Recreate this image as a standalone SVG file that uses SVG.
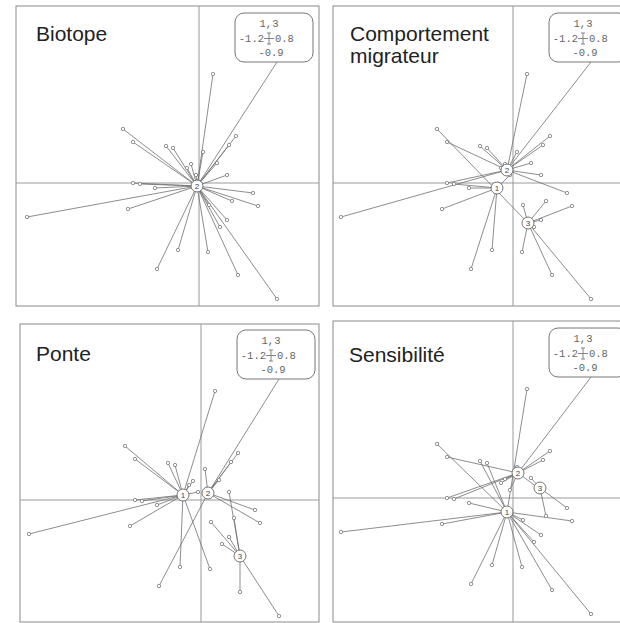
<svg xmlns="http://www.w3.org/2000/svg" xmlns:xlink="http://www.w3.org/1999/xlink" width="620" height="623" viewBox="0 0 620 623">
<style>
.frame{fill:none;stroke:#8a8a8a;stroke-width:1}
.axis{stroke:#9a9a9a;stroke-width:1;fill:none}
.star{stroke:#707070;stroke-width:0.8;fill:none}
.pt{fill:#fff;stroke:#777;stroke-width:0.8}
.ctr circle{fill:#fff;stroke:#666;stroke-width:0.9}
.ctr text{font-family:"Liberation Sans",Arial,sans-serif;font-size:8px;fill:#444;text-anchor:middle}
.title{font-family:"Liberation Sans",Arial,sans-serif;font-size:21px;fill:#222}
.box rect{fill:#fff;stroke:#777;stroke-width:1}
.box text{font-family:"Liberation Mono","Courier New",monospace;font-size:10.5px;fill:#666}
.box path{stroke:#777;stroke-width:0.9;fill:none}
</style>
<defs>
<g id="pts">
<circle class="pt" cx="14" cy="-109" r="1.7"/><circle class="pt" cx="-76" cy="-54" r="1.7"/><circle class="pt" cx="-66" cy="-41" r="1.7"/><circle class="pt" cx="-33" cy="-37" r="1.7"/><circle class="pt" cx="-26" cy="-35" r="1.7"/><circle class="pt" cx="4" cy="-31" r="1.7"/><circle class="pt" cx="37" cy="-47" r="1.7"/><circle class="pt" cx="-8" cy="-19" r="1.7"/><circle class="pt" cx="-12" cy="-15" r="1.7"/><circle class="pt" cx="28" cy="-8" r="1.7"/><circle class="pt" cx="-66" cy="0" r="1.7"/><circle class="pt" cx="-59" cy="1" r="1.7"/><circle class="pt" cx="-44" cy="5" r="1.7"/><circle class="pt" cx="-172" cy="34" r="1.7"/><circle class="pt" cx="-71" cy="26" r="1.7"/><circle class="pt" cx="54" cy="10" r="1.7"/><circle class="pt" cx="59" cy="23" r="1.7"/><circle class="pt" cx="28" cy="37" r="1.7"/><circle class="pt" cx="21" cy="44" r="1.7"/><circle class="pt" cx="-21" cy="67" r="1.7"/><circle class="pt" cx="9" cy="69" r="1.7"/><circle class="pt" cx="-42" cy="86" r="1.7"/><circle class="pt" cx="39" cy="92" r="1.7"/><circle class="pt" cx="78" cy="116" r="1.7"/><circle class="pt" cx="18" cy="-20" r="1.7"/><circle class="pt" cx="-3" cy="-8" r="1.7"/><circle class="pt" cx="33" cy="18" r="1.7"/><circle class="pt" cx="30" cy="-38" r="1.7"/><circle class="pt" cx="10" cy="22" r="1.7"/>
</g>
<g id="scale" class="box">
<rect x="36" y="-170" width="78" height="49" rx="9"/>
<text x="70" y="-156" text-anchor="middle">1,3</text>
<text x="65" y="-141" text-anchor="end">-1.2</text>
<path d="M70 -150V-139M65 -144.5H75M68 -150H72M68 -139H72"/>
<text x="76" y="-141">0.8</text>
<text x="72" y="-127" text-anchor="middle">-0.9</text>
</g>
</defs>

<!-- frames and axes -->
<g id="frames">
<rect class="frame" x="16" y="6" width="303" height="300"/>
<rect class="frame" x="333" y="6" width="300" height="300"/>
<rect class="frame" x="20" y="324" width="299" height="298"/>
<rect class="frame" x="333" y="321" width="300" height="301"/>
<path class="axis" d="M199 6V306M16 183H319M513 6V306M333 183H633M201 324V622M20 500H319M513 321V622M333 498H633"/>
</g>

<!-- Panel 1: Biotope -->
<g id="panel-biotope" transform="translate(199,183)">
<g id="connectors-biotope">
<path class="star" d="M-2 3L78-121M-2 3L14-109M-2 3L-76-54M-2 3L-66-41M-2 3L-33-37M-2 3L-26-35M-2 3L4-31M-2 3L37-47M-2 3L-8-19M-2 3L-12-15M-2 3L28-8M-2 3L-66 0M-2 3L-59 1M-2 3L-44 5M-2 3L-172 34M-2 3L-71 26M-2 3L54 10M-2 3L59 23M-2 3L28 37M-2 3L21 44M-2 3L-21 67M-2 3L9 69M-2 3L-42 86M-2 3L39 92M-2 3L78 116M-2 3L18-20M-2 3L-3-8M-2 3L33 18M-2 3L30-38M-2 3L10 22"/>
</g>
<use href="#pts" xlink:href="#pts"/>
<g id="biotope-c2" class="ctr"><circle cx="-2" cy="3" r="6"/><text x="-2" y="6">2</text></g>
<use href="#scale" xlink:href="#scale"/>
</g>
<text class="title" x="36" y="41">Biotope</text>

<!-- Panel 2: Comportement migrateur -->
<g id="panel-migrateur" transform="translate(513,183)">
<g id="connectors-migrateur">
<path class="star" d="M-6-13L78-121M-6-13L14-109M-6-13L-66-41M-6-13L-33-37M-6-13L-26-35M-6-13L4-31M-6-13L37-47M-6-13L-8-19M-6-13L-12-15M-6-13L28-8M-6-13L-66 0M-6-13L-172 34M-6-13L54 10M-6-13L18-20M-6-13L30-38"/>
<path class="star" d="M-16 5L-59 1M-16 5L-44 5M-16 5L-71 26M-16 5L-21 67M-16 5L-42 86M-16 5L-3-8"/>
<path class="star" d="M15 40L-76-54M15 40L59 23M15 40L28 37M15 40L21 44M15 40L9 69M15 40L39 92M15 40L78 116M15 40L33 18M15 40L10 22"/>
</g>
<use href="#pts" xlink:href="#pts"/>
<g id="migrateur-c2" class="ctr"><circle cx="-6" cy="-13" r="6"/><text x="-6" y="-10">2</text></g>
<g id="migrateur-c1" class="ctr"><circle cx="-16" cy="5" r="6"/><text x="-16" y="8">1</text></g>
<g id="migrateur-c3" class="ctr"><circle cx="15" cy="40" r="6"/><text x="15" y="43">3</text></g>
<use href="#scale" xlink:href="#scale"/>
</g>
<text class="title" x="350" y="41">Comportement</text>
<text class="title" x="350" y="63">migrateur</text>

<!-- Panel 3: Ponte -->
<g id="panel-ponte" transform="translate(201,500)">
<g id="connectors-ponte">
<path class="star" d="M-18-5L14-109M-18-5L-76-54M-18-5L-66-41M-18-5L-33-37M-18-5L-26-35M-18-5L-8-19M-18-5L-12-15M-18-5L-66 0M-18-5L-59 1M-18-5L-44 5M-18-5L-172 34M-18-5L-71 26M-18-5L-21 67M-18-5L9 69M-18-5L-3-8"/>
<path class="star" d="M7-7L78-121M7-7L4-31M7-7L37-47M7-7L54 10M7-7L59 23M7-7L-42 86M7-7L18-20M7-7L30-38"/>
<path class="star" d="M39 56L28-8M39 56L28 37M39 56L21 44M39 56L39 92M39 56L78 116M39 56L33 18M39 56L10 22"/>
</g>
<use href="#pts" xlink:href="#pts"/>
<g id="ponte-c1" class="ctr"><circle cx="-18" cy="-5" r="6"/><text x="-18" y="-2">1</text></g>
<g id="ponte-c2" class="ctr"><circle cx="7" cy="-7" r="6"/><text x="7" y="-4">2</text></g>
<g id="ponte-c3" class="ctr"><circle cx="39" cy="56" r="6"/><text x="39" y="59">3</text></g>
<use href="#scale" xlink:href="#scale"/>
</g>
<text class="title" x="36" y="361">Ponte</text>

<!-- Panel 4: Sensibilité -->
<g id="panel-sensibilite" transform="translate(513,498)">
<g id="connectors-sensibilite">
<path class="star" d="M-6 14L14-109M-6 14L-76-54M-6 14L-33-37M-6 14L-26-35M-6 14L-44 5M-6 14L-172 34M-6 14L-71 26M-6 14L59 23M-6 14L28 37M-6 14L21 44M-6 14L-21 67M-6 14L9 69M-6 14L-42 86M-6 14L39 92M-6 14L78 116M-6 14L10 22"/>
<path class="star" d="M5-25L78-121M5-25L-66-41M5-25L4-31M5-25L37-47M5-25L-8-19M5-25L-12-15M5-25L-66 0M5-25L-59 1M5-25L-3-8M5-25L30-38M5-25L28-8"/>
<path class="star" d="M27-10L54 10M27-10L18-20M27-10L33 18"/>
</g>
<use href="#pts" xlink:href="#pts"/>
<g id="sensibilite-c1" class="ctr"><circle cx="-6" cy="14" r="6"/><text x="-6" y="17">1</text></g>
<g id="sensibilite-c2" class="ctr"><circle cx="5" cy="-25" r="6"/><text x="5" y="-22">2</text></g>
<g id="sensibilite-c3" class="ctr"><circle cx="27" cy="-10" r="6"/><text x="27" y="-7">3</text></g>
<use href="#scale" xlink:href="#scale"/>
</g>
<text class="title" x="349" y="362">Sensibilité</text>
</svg>
